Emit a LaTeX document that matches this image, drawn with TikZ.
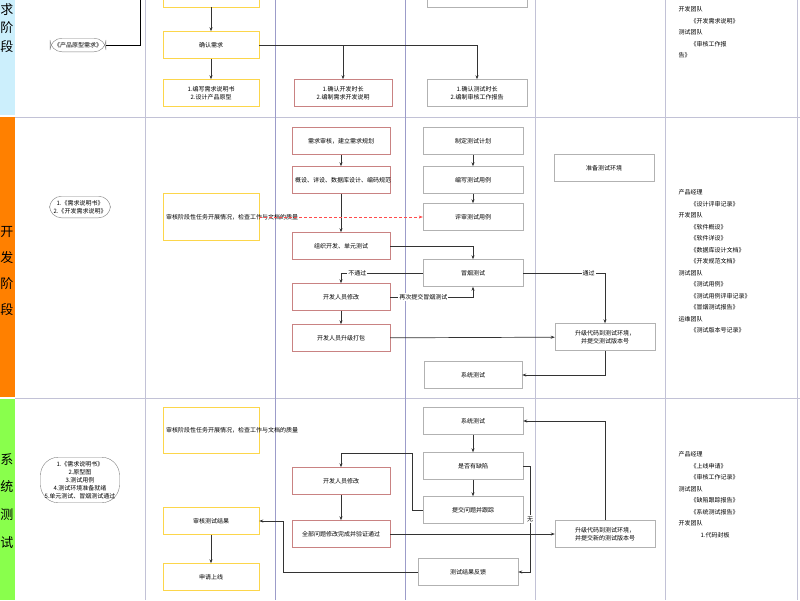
\documentclass[tikz,border=0pt]{standalone}
\usepackage{fontspec}
\setmainfont{Noto Sans CJK SC}
\usetikzlibrary{arrows.meta}

\tikzstyle{box} = [draw=gray!60, fill=white, minimum height=27pt, align=center, inner sep=2pt, font=\fontsize{6}{8}\selectfont]
\tikzstyle{pm} = [box, draw=yellow!60!orange!70, minimum width=96pt, text width=90pt]
\tikzstyle{dev} = [box, draw=red!40!gray!70, minimum width=98pt, text width=92pt]
\tikzstyle{qa} = [box, minimum width=100pt, text width=94pt]
\tikzstyle{doc} = [draw=gray, rounded corners=12pt, align=center, fill=white, font=\fontsize{6}{8}\selectfont, inner sep=4pt]
\tikzstyle{outdoc} = [align=left, anchor=north west, font=\fontsize{6}{11.5}\selectfont]
\tikzstyle{phase} = [font=\fontsize{13}{13}\selectfont]
\tikzstyle{flow} = [draw=black!80, -{Stealth[length=4pt]}, line width=0.7pt]
\tikzstyle{lab} = [fill=white, inner sep=1pt, font=\fontsize{6}{7}\selectfont]

\begin{document}
\begin{tikzpicture}[x=1pt, y=-1pt]
    \useasboundingbox (0, 0) rectangle (800, 600);
    % phase strip and lanes
    \fill[cyan!20] (0, 0) rectangle (15, 115);
    \fill[orange] (0, 117) rectangle (15, 397);
    \fill[green!55!lime!70] (0, 399) rectangle (15, 600);
    \draw[blue!20!gray!40] (15, 117) -- (800, 117);
    \draw[blue!20!gray!40] (15, 398) -- (800, 398);
    \foreach \xx in {145, 275, 405, 535, 665}
        \draw[blue!20!gray!40] (\xx, 0) -- (\xx, 600);
    \draw[blue!30!gray!60] (275, 0) -- (275, 600);
    \draw[blue!30!gray!60] (405, 0) -- (405, 600);
    \draw[blue!20!gray!40] (797, 0) -- (797, 600);
    \foreach \ch/\yy in {求/10, 阶/28, 段/47}
        \node[phase] at (7, \yy) {\ch};
    \foreach \ch/\yy in {开/232, 发/258, 阶/284, 段/310}
        \node[phase] at (7, \yy) {\ch};
    \foreach \ch/\yy in {系/460, 统/487, 测/515, 试/543}
        \node[phase] at (7, \yy) {\ch};

    % requirement phase
    \node[pm, minimum height=30pt] (Top1) at (211, -8) {};
    \node[qa, minimum height=30pt] (Top2) at (477, -8) {};
    \node[doc] (Proto) at (78, 45) {《产品原型需求》};
    \coordinate (ProtoUp) at (140, 0);
    \node[pm] (Confirm) at (211, 45) {确认需求};
    \node[pm] (ReqDoc) at (211, 93) {1.编写需求说明书\\2.设计产品原型};
    \node[dev] (DevTime) at (343, 93) {1.确认开发时长\\2.编制需求开发说明};
    \node[qa] (TestTime) at (477, 93) {1.确认测试时长\\2.编制审核工作报告};
    \draw[line width=0.7pt] (Proto.east) -| (ProtoUp);
    \draw[flow] (Top1) -- (Confirm);
    \draw[flow] (Confirm) -- (ReqDoc);
    \draw[flow] (Confirm.east) -| (DevTime.north);
    \draw[flow] (Confirm.east) -| (TestTime.north);
    \node[outdoc] at (675, 3) {开发团队\\\hspace{12pt}《开发需求说明》\\测试团队\\\hspace{12pt}《审核工作报\\告》};

    % development phase
    \node[doc] (DevIn) at (80, 207) {1.《需求说明书》\\2.《开发需求说明》};
    \node[pm, minimum height=47pt] (Audit1) at (211, 217) {审核阶段性任务开展情况，检查工作与文档的质量};
    \node[dev] (Plan) at (341, 141) {需求审核，建立需求规划};
    \node[dev] (Design) at (341, 180) {概设、详设、数据库设计、编码规范};
    \node[dev] (Code) at (341, 246) {组织开发、单元测试};
    \node[dev] (Fix1) at (341, 297) {开发人员修改};
    \node[dev] (Pack) at (341, 338) {开发人员升级打包};
    \node[qa] (TPlan) at (473, 141) {制定测试计划};
    \node[qa] (TCase) at (473, 180) {编写测试用例};
    \node[qa] (TReview) at (473, 217) {评审测试用例};
    \node[qa] (Smoke) at (473, 273) {冒烟测试};
    \node[qa, minimum width=96pt] (SysT1) at (473, 375) {系统测试};
    \node[qa] (Env) at (604, 168) {准备测试环境};
    \node[qa] (Deploy1) at (605, 337) {升级代码到测试环境，\\并提交测试版本号};
    \draw[flow] (Plan) -- (Design);
    \draw[flow] (Design) -- (Code);
    \draw[flow] (TPlan) -- (TCase);
    \draw[flow] (TCase) -- (TReview);
    \draw[-{Stealth[length=4pt]}, red!70, densely dashed, thin] (Audit1) -- (TReview);
    \draw[flow] (Code.east) -| (Smoke.north);
    \draw[flow] (Smoke.west) -| node[lab, pos=0.4] {不通过} (Fix1.north);
    \draw[flow] (Fix1.east) -| node[lab, pos=0.2] {再次提交冒烟测试} (Smoke.south);
    \draw[flow] (Fix1) -- (Pack);
    \draw[flow] (Pack) -- (Deploy1);
    \draw[flow] (Smoke.east) -| node[lab, pos=0.4] {通过} (Deploy1.north);
    \draw[flow] (Deploy1.south) |- (SysT1.east);
    \node[outdoc] at (675, 186) {产品经理\\\hspace{12pt}《设计评审记录》\\开发团队\\\hspace{12pt}《软件概设》\\\hspace{12pt}《软件详设》\\\hspace{12pt}《数据库设计文档》\\\hspace{12pt}《开发规范文档》\\测试团队\\\hspace{12pt}《测试用例》\\\hspace{12pt}《测试用例评审记录》\\\hspace{12pt}《冒烟测试报告》\\运维团队\\\hspace{12pt}《测试版本号记录》};

    % system test phase
    \node[doc, rounded corners=18pt] (SysIn) at (80, 480) {1.《需求说明书》\\2.原型图\\3.测试用例\\4.测试环境准备就绪\\5.单元测试、冒烟测试通过};
    \node[pm, minimum height=46pt] (Audit2) at (211, 430) {审核阶段性任务开展情况，检查工作与文档的质量};
    \node[pm] (Result) at (211, 521) {审核测试结果};
    \node[pm] (Online) at (211, 577) {申请上线};
    \node[dev] (Fix2) at (341, 481) {开发人员修改};
    \node[dev] (Verify) at (341, 534) {全部问题修改完成并验证通过};
    \node[qa] (SysT2) at (473, 421) {系统测试};
    \node[qa] (Defect) at (473, 466) {是否有缺陷};
    \node[qa] (Track) at (473, 510) {提交问题并跟踪};
    \node[qa] (Feedback) at (468, 572) {测试结果反馈};
    \node[qa] (Deploy2) at (605, 534) {升级代码到测试环境，\\并提交新的测试版本号};
    \coordinate (TrackL) at (412, 510);
    \coordinate (TrackU) at (412, 453);
    \coordinate (DefR) at (530, 466);
    \coordinate (FbL) at (283, 572);
    \draw[flow] (SysT2) -- (Defect);
    \draw[flow] (Defect) -- (Track);
    \draw[flow] (Track.west) -- (TrackL) -- (TrackU) -| (Fix2.north);
    \draw[flow] (Fix2) -- (Verify);
    \draw[flow] (Verify) -- (Deploy2);
    \draw[flow] (Deploy2.north) |- (SysT2.east);
    \draw[flow] (Defect.east) -- (DefR) |- node[lab, pos=0.25] {无} (Feedback.east);
    \draw[flow] (Feedback.west) -- (FbL) |- (Result.east);
    \draw[flow] (Result) -- (Online);
    \node[outdoc] at (675, 448) {产品经理\\\hspace{12pt}《上线申请》\\\hspace{12pt}《审核工作记录》\\测试团队\\\hspace{12pt}《缺陷跟踪报告》\\\hspace{12pt}《系统测试报告》\\开发团队\\\hspace{22pt}1.代码封板};
\end{tikzpicture}
\end{document}
